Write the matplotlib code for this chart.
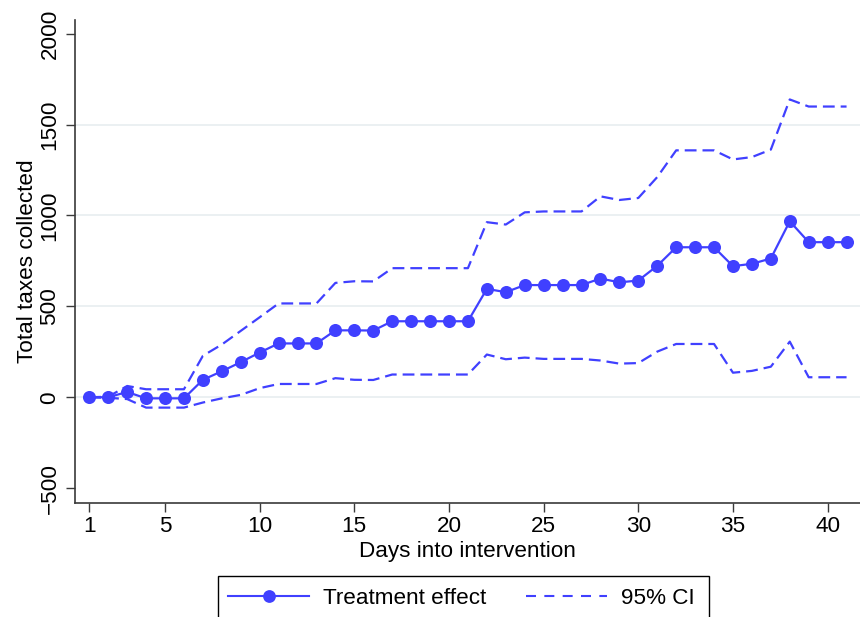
import matplotlib
matplotlib.use("Agg")
import matplotlib.pyplot as plt
from matplotlib.lines import Line2D
from matplotlib.patches import Rectangle

plt.rcParams['font.family'] = ['Liberation Sans', 'DejaVu Sans']
plt.rcParams['lines.scale_dashes'] = False

days = list(range(1, 42))
effect = [0, 0, 29, -6, -6, -6, 96, 143, 193, 246,
          296, 296, 296, 368, 368, 367, 418, 418, 418, 418,
          418, 596, 578, 617, 617, 617, 617, 653, 632, 642,
          723, 825, 825, 825, 721, 734, 763, 968, 853, 853, 853]
ci_upper = [0, 3, 62, 44, 44, 44, 228, 290, 365, 440,
            516, 516, 516, 629, 638, 637, 710, 710, 710, 710,
            710, 963, 950, 1017, 1022, 1022, 1022, 1105, 1085, 1096,
            1211, 1358, 1358, 1358, 1308, 1321, 1362, 1638, 1599, 1599, 1599]
ci_lower = [0, -3, -10, -57, -57, -57, -29, -6, 13, 50,
            73, 73, 73, 105, 96, 95, 125, 125, 125, 125,
            125, 235, 209, 218, 211, 211, 211, 202, 185, 188,
            251, 293, 293, 293, 135, 145, 168, 306, 110, 110, 110]
x_ticks = [1, 5, 10, 15, 20, 25, 30, 35, 40]
y_ticks = [-500, 0, 500, 1000, 1500, 2000]
grid_levels = [0, 500, 1000, 1500]

W, H = 860, 617
blue = '#4040FF'
axis_col = '#3a3a3a'
fs = 16.2

fig = plt.figure(figsize=(W / 100, H / 100), dpi=100)
ax = fig.add_axes([75 / W, (H - 502.7) / H, (W - 75) / W, (502.7 - 20) / H])

for g in grid_levels:
    ax.axhline(g, color='#E9EFF1', lw=1.3, zorder=0)

dash = (8.5, 4.3)
ax.plot(days, ci_upper, color=blue, lw=1.6, linestyle=(0, dash), zorder=2)
ax.plot(days, ci_lower, color=blue, lw=1.6, linestyle=(0, dash), zorder=2)
ax.plot(days, effect, color=blue, lw=1.6, marker='o', markersize=9.4,
        markeredgewidth=0, zorder=3)

ax.set_xlim(0.245, 41.71)
ax.set_ylim(-580, 2075)
ax.set_xticks(x_ticks)
ax.set_yticks(y_ticks)
ax.tick_params(axis='both', direction='out', length=6.5, width=1.0,
               color=axis_col, labelsize=fs, labelcolor='black')
ax.tick_params(axis='x', pad=3)
ax.tick_params(axis='y', pad=4)
for lab in ax.get_yticklabels():
    lab.set_rotation(90)
    lab.set_va('center')

for side in ('top', 'right'):
    ax.spines[side].set_visible(False)
for side in ('left', 'bottom'):
    ax.spines[side].set_color(axis_col)
    ax.spines[side].set_linewidth(1.2)

ax.set_xlabel('Days into intervention', fontsize=fs, labelpad=3)
ax.set_ylabel('Total taxes collected', fontsize=fs, labelpad=1)

# legend frame (runs off the bottom edge of the figure)
fig.patches.append(Rectangle((218 / W, -0.05), (709 - 218) / W, 0.05 + (H - 575.7) / H,
                             transform=fig.transFigure, fill=False,
                             edgecolor='black', lw=1.0, clip_on=False))
handles = [
    Line2D([], [], color=blue, lw=1.5, marker='o', markersize=9.2,
           markeredgewidth=0),
    Line2D([], [], color=blue, lw=1.5, linestyle=(0, (7.2, 6))),
]
fig.legend(handles, ['Treatment effect', '95% CI'], ncol=2, frameon=False,
           loc='center left', bbox_to_anchor=(228 / W, 1 - 598 / H),
           borderpad=0, borderaxespad=0, fontsize=fs,
           handlelength=3.6, handletextpad=0.62, columnspacing=1.75,
           numpoints=1)

fig.savefig('out.png', dpi=100)
